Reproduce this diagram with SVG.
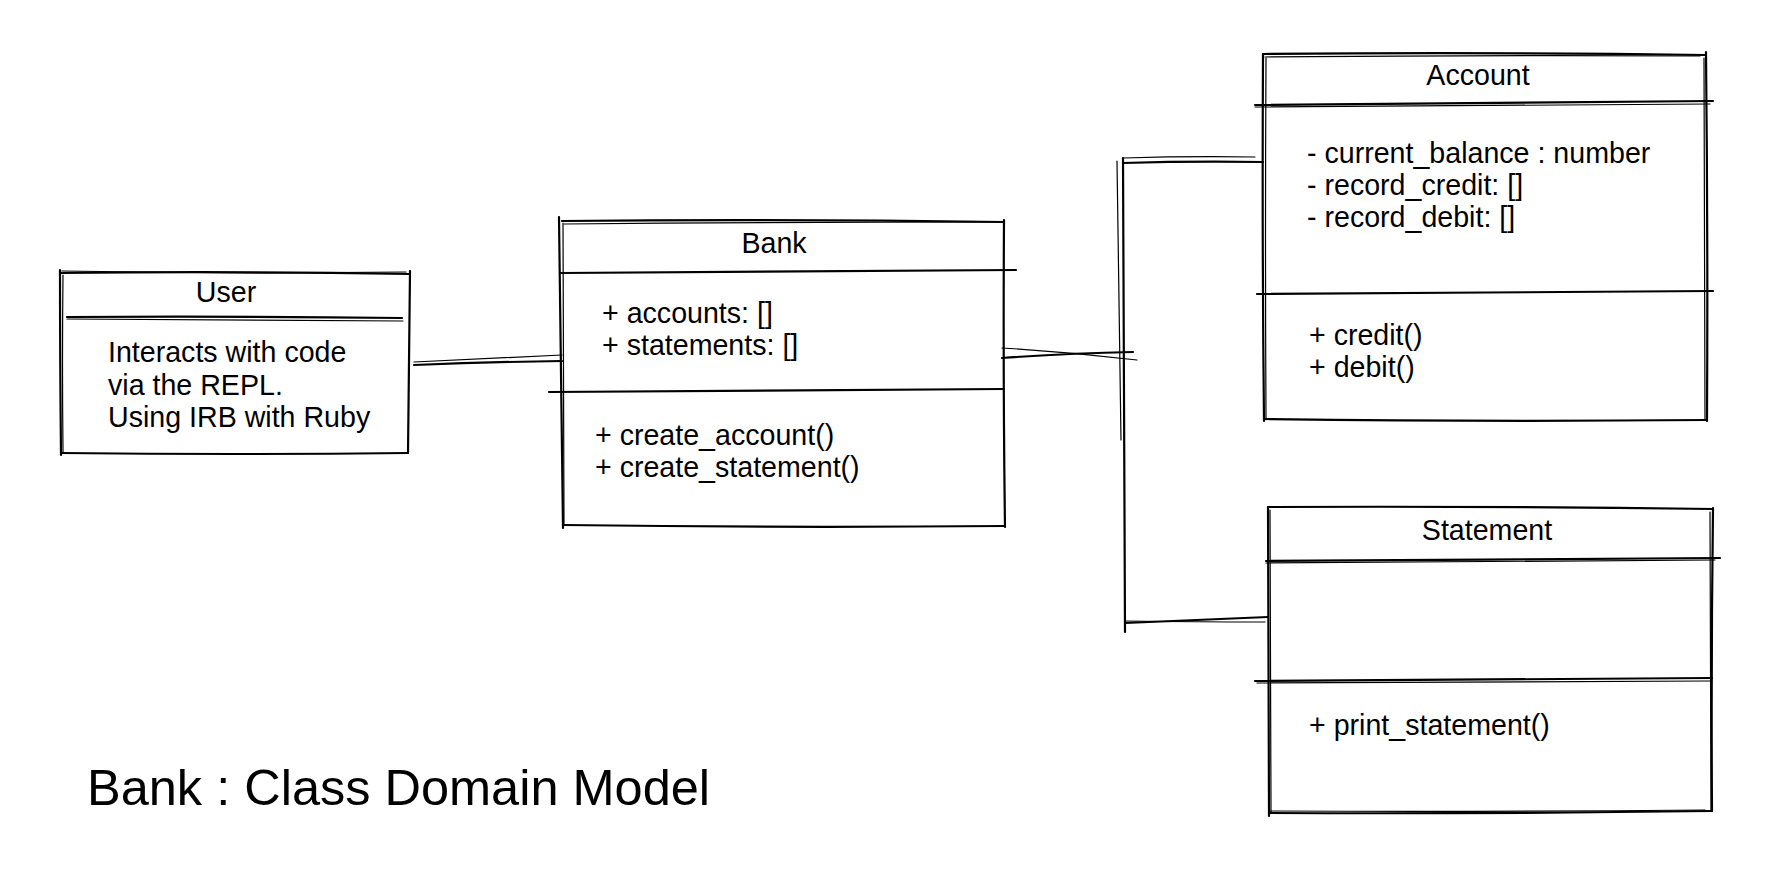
<svg xmlns="http://www.w3.org/2000/svg" width="1788" height="878" viewBox="0 0 1788 878">
<style>
.s{fill:none;stroke:#000;stroke-width:2.2;stroke-linecap:round;stroke-linejoin:round}
.t{fill:none;stroke:#000;stroke-width:1.2;stroke-linecap:round}
text{font-family:"Liberation Sans",Arial,Helvetica,sans-serif;font-size:28.6px;fill:#000}
.c{text-anchor:middle}
.title{font-size:50.5px}
</style>
<rect width="1788" height="878" fill="#fff"/>
<g id="connectors">
<path class="t" d="M414 362 L562 355"/>
<path class="s" d="M414 365 Q490 362 562 361"/>
<path class="t" d="M1002 348 Q1070 352 1137 360"/>
<path class="s" d="M1002 358 Q1070 353 1133 352"/>
<path class="s" d="M1123 158 Q1124 400 1125 632"/>
<path class="t" d="M1117 161 Q1119 300 1121 440"/>
<path class="s" d="M1123 163 Q1190 161 1263 162"/>
<path class="t" d="M1123 158 Q1190 156 1255 157"/>
<path class="s" d="M1125 623 Q1200 620 1268 617"/>
<path class="t" d="M1125 621 Q1200 622 1265 622"/>
</g>
<g id="user">
<path class="s" d="M60 273 Q235 271 410 274"/>
<path class="t" d="M62 271 Q230 274 406 272"/>
<path class="s" d="M410 271 Q409 360 408 453"/>
<path class="s" d="M408 453 Q235 455 61 453"/>
<path class="s" d="M61 455 Q60 360 60 270"/>
<path class="t" d="M63 452 Q62 360 63 275"/>
<path class="s" d="M67 317 Q235 316 402 318"/>
<path class="t" d="M67 319 Q235 320 403 321"/>
<text class="c" x="226" y="302">User</text>
<text x="108" y="362">Interacts with code</text>
<text x="108" y="394.5">via the REPL.</text>
<text x="108" y="427">Using IRB with Ruby</text>
</g>
<g id="bank">
<path class="s" d="M562 221 Q780 219 1004 222"/>
<path class="t" d="M564 224 Q780 222 1000 222"/>
<path class="s" d="M1004 220 Q1003 380 1005 527"/>
<path class="s" d="M1005 526 Q780 528 563 525"/>
<path class="s" d="M563 528 Q561 380 559 217"/>
<path class="t" d="M564 525 Q564 380 563 223"/>
<path class="s" d="M561 273 Q780 271 1016 270"/>
<path class="s" d="M549 392 Q780 390 1004 389"/>
<text class="c" x="774" y="253">Bank</text>
<text x="602" y="323">+ accounts: []</text>
<text x="602" y="355">+ statements: []</text>
<text x="595" y="445">+ create_account()</text>
<text x="595" y="477">+ create_statement()</text>
</g>
<g id="account">
<path class="s" d="M1263 54 Q1480 52 1706 55"/>
<path class="t" d="M1265 57 Q1480 55 1700 56"/>
<path class="s" d="M1706 52 Q1708 240 1707 421"/>
<path class="t" d="M1704 58 Q1705 240 1705 420"/>
<path class="s" d="M1707 420 Q1480 422 1264 419"/>
<path class="s" d="M1264 421 Q1262 240 1263 54"/>
<path class="t" d="M1266 419 Q1265 240 1266 58"/>
<path class="s" d="M1255 105 Q1480 103 1713 101"/>
<path class="t" d="M1255 107 Q1480 106 1710 104"/>
<path class="s" d="M1257 294 Q1480 293 1713 291"/>
<text class="c" x="1478" y="85">Account</text>
<text x="1307" y="163">- current_balance : number</text>
<text x="1307" y="195">- record_credit: []</text>
<text x="1307" y="227">- record_debit: []</text>
<text x="1309" y="345">+ credit()</text>
<text x="1309" y="377">+ debit()</text>
</g>
<g id="statement">
<path class="s" d="M1268 507 Q1490 506 1713 509"/>
<path class="s" d="M1713 508 Q1711 660 1712 811"/>
<path class="t" d="M1710 512 Q1710 660 1711 810"/>
<path class="s" d="M1712 811 Q1490 814 1269 813"/>
<path class="t" d="M1270 811 Q1490 812 1705 810"/>
<path class="s" d="M1269 816 Q1268 660 1268 507"/>
<path class="t" d="M1271 812 Q1271 660 1270 510"/>
<path class="s" d="M1266 561 Q1490 559 1720 558"/>
<path class="t" d="M1266 563 Q1490 562 1715 560"/>
<path class="s" d="M1255 681 Q1490 680 1712 678"/>
<path class="t" d="M1257 683 Q1490 682 1710 681"/>
<text class="c" x="1487" y="540">Statement</text>
<text x="1309" y="735">+ print_statement()</text>
</g>
<text class="title" x="87" y="805">Bank : Class Domain Model</text>
</svg>
